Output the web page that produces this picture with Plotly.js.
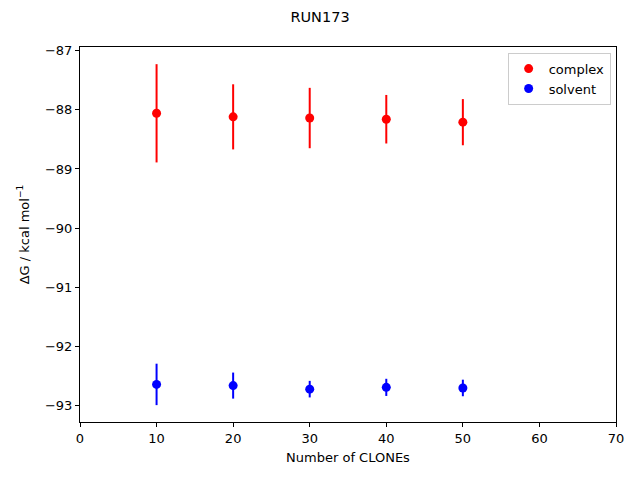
<!DOCTYPE html>
<html>
<head>
<meta charset="utf-8">
<script src="https://cdn.plot.ly/plotly-3.0.1.min.js"></script>
<style>html,body{margin:0;padding:0;background:#fff;}#chart{width:640px;height:480px;}</style>
</head>
<body>
<div id="chart"></div>
<script>
const clones = [10, 20, 30, 40, 50];
const complexDG = [-88.06, -88.12, -88.14, -88.16, -88.21];
const complexErr = [0.83, 0.55, 0.51, 0.41, 0.39];
const solventDG = [-92.64, -92.66, -92.72, -92.69, -92.70];
const solventErr = [0.35, 0.22, 0.14, 0.145, 0.14];

const font = {family: 'DejaVu Sans, sans-serif', size: 13, color: '#000'};

const traces = [
  {x: clones, y: complexDG, name: 'complex', mode: 'markers', type: 'scatter',
   marker: {color: '#ff0000', size: 9},
   error_y: {type: 'data', array: complexErr, visible: true, color: '#ff0000', thickness: 2, width: 0}},
  {x: clones, y: solventDG, name: 'solvent', mode: 'markers', type: 'scatter',
   marker: {color: '#0000ff', size: 9},
   error_y: {type: 'data', array: solventErr, visible: true, color: '#0000ff', thickness: 2, width: 0}}
];

const layout = {
  width: 640, height: 480,
  margin: {l: 80, r: 24, t: 47, b: 58},
  paper_bgcolor: '#fff', plot_bgcolor: '#fff',
  font: font,
  title: {text: 'RUN173', font: {family: 'DejaVu Sans, sans-serif', size: 14.5, color: '#000'}, x: 0.5, xanchor: 'center', y: 0.965, yanchor: 'middle'},
  xaxis: {range: [0, 70], tickvals: [0,10,20,30,40,50,60,70], showgrid: false, zeroline: false,
    showline: true, linecolor: '#000', linewidth: 1, mirror: true, ticks: 'outside', ticklen: 4, tickcolor: '#000',
    title: {text: 'Number of CLONEs', font: font, standoff: 8}, tickfont: font},
  yaxis: {range: [-93.275, -86.94], tickvals: [-93,-92,-91,-90,-89,-88,-87], ticktext: ['−93','−92','−91','−90','−89','−88','−87'],
    showgrid: false, zeroline: false,
    showline: true, linecolor: '#000', linewidth: 1, mirror: true, ticks: 'outside', ticklen: 4, tickcolor: '#000',
    title: {text: 'ΔG / kcal mol<sup>−1</sup>', font: font, standoff: 12}, tickfont: font},
  legend: {x: 0.99, y: 0.985, xanchor: 'right', yanchor: 'top', bordercolor: '#cccccc', borderwidth: 1,
    bgcolor: 'rgba(255,255,255,0.8)', font: font, tracegroupgap: 0},
  showlegend: true
};

Plotly.newPlot('chart', traces, layout, {displayModeBar: false, staticPlot: true});
</script>
</body>
</html>
